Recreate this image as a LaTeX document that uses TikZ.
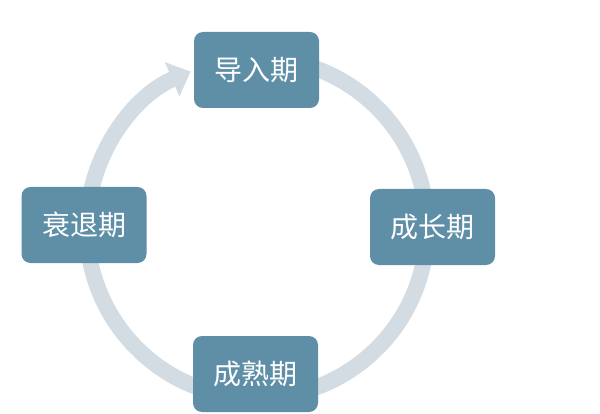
\documentclass[tikz,border=0pt]{standalone}
\usepackage{fontspec}
\newfontfamily\cjk{Noto Sans CJK SC}
\usepackage{xcolor}
\usetikzlibrary{arrows.meta}
\definecolor{stagefill}{HTML}{5E8FA7}
\definecolor{ringgray}{HTML}{D3DCE2}

\begin{document}
\begin{tikzpicture}[x=1pt, y=1pt,
    stagebox/.style={fill=stagefill, rounded corners=9pt, minimum width=125pt,
        minimum height=76pt, inner sep=0pt, text=white,
        font=\cjk\fontsize{28}{32}\selectfont},
    ring/.style={draw=ringgray, line width=16pt,
        -{Triangle[width=36pt, length=20pt]}}]
    \useasboundingbox (0,0) rectangle (600,413);
    % Cycle ring
    \coordinate (hub) at (257,185);
    \draw[ring] (hub) ++(80:170pt) arc[start angle=80, end angle=-247, radius=170pt];
    % Stages
    \foreach \name/\x/\y/\txt in {intro/256.5/343/导入期, growth/432.5/186/成长期,
                                  mature/255.5/39/成熟期, decline/84/188/衰退期}
        \node[stagebox] (\name) at (\x,\y) {\txt};
\end{tikzpicture}
\end{document}
